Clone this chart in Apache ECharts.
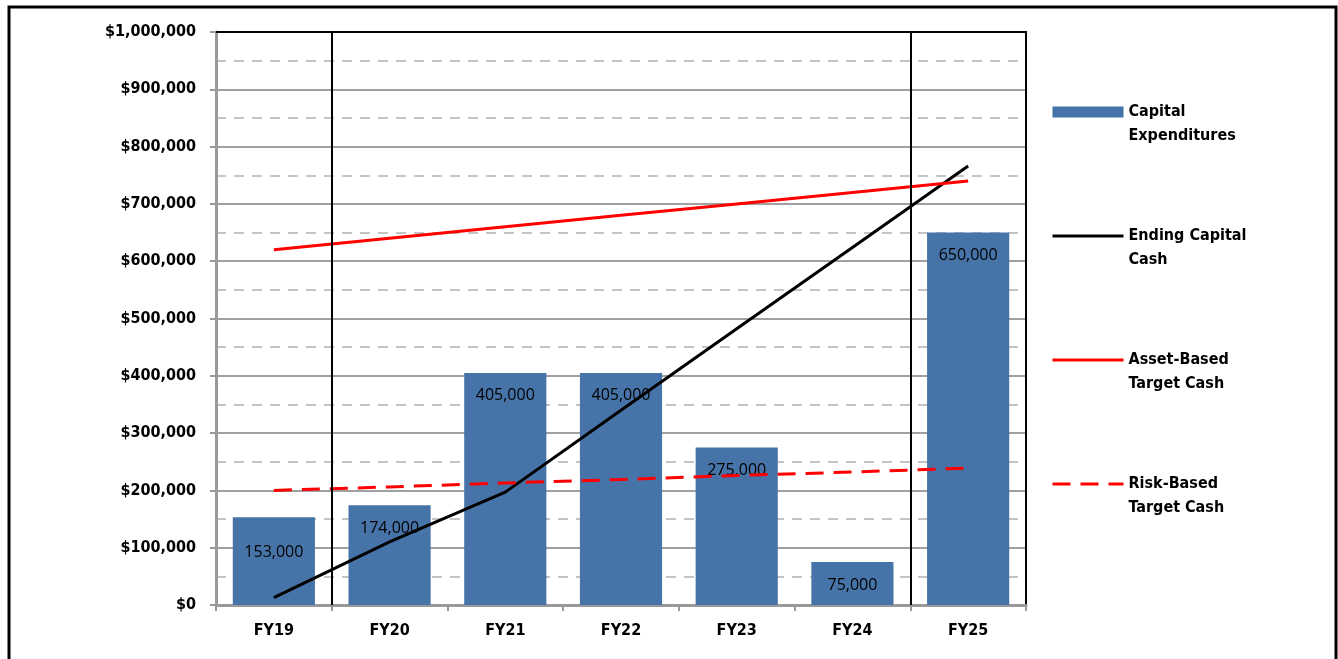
<!DOCTYPE html>
<html>
<head>
<meta charset="utf-8">
<script src="https://cdn.jsdelivr.net/npm/echarts@6/dist/echarts.min.js"></script>
<style>
html,body{margin:0;padding:0;background:#fff;}
#chart{width:1338px;height:659px;}
</style>
</head>
<body>
<div id="chart"></div>
<script>
// 数据
var years = ['FY19', 'FY20', 'FY21', 'FY22', 'FY23', 'FY24', 'FY25'];
var capitalExp = [153000, 174000, 405000, 405000, 275000, 75000, 650000];
var endingCash = [13000, 110000, 197000, 340000, 482000, 624000, 766000];
var assetTarget = [620000, 640000, 660000, 680000, 700000, 720000, 740000];
var riskTarget = [200000, 206000, 213000, 219000, 226000, 232000, 239000];
var dividers = [1, 6]; // black lines between FY19/FY20 and FY24/FY25

var axisFont = "'Liberation Sans Narrow', 'DejaVu Sans Condensed', sans-serif";
// blank first line keeps the icon level with the first text line
var legendNames = {
	'Capital Expenditures': '\nCapital\nExpenditures',
	'Ending Capital Cash': '\nEnding Capital\nCash',
	'Asset-Based Target Cash': '\nAsset-Based\nTarget Cash',
	'Risk-Based Target Cash': '\nRisk-Based\nTarget Cash'
};

function drowChart(){
	var myChart = echarts.init(document.getElementById('chart'));
	var barData = capitalExp.map(function(v, i){
		// the FY19 label sits lower in the original
		if (i == 0) return {value: v, label: {distance: 27}};
		return v;
	});
	var hideDot = {opacity: 0};
	var option = {
		animation: false,
		graphic: [{
			type: 'rect',
			shape: {x: 9, y: 7, width: 1327, height: 700},
			style: {fill: 'none', stroke: '#000', lineWidth: 3},
			silent: true
		}],
		grid: {left: 216, top: 32, width: 810, height: 573, containLabel: false},
		legend: {
			orient: 'vertical',
			left: 1051,
			top: 76,
			padding: 0,
			itemWidth: 71,
			itemHeight: 11,
			itemGap: 52,
			data: [
				{name: 'Capital Expenditures', icon: 'rect'},
				{name: 'Ending Capital Cash', itemStyle: hideDot, lineStyle: {width: 3}},
				{name: 'Asset-Based Target Cash', itemStyle: hideDot, lineStyle: {width: 3}},
				{name: 'Risk-Based Target Cash', itemStyle: hideDot, lineStyle: {width: 3}}
			],
			formatter: function(name){ return legendNames[name]; },
			textStyle: {
				fontFamily: axisFont, fontWeight: 'bold', fontSize: 16, color: '#000',
				lineHeight: 24
			}
		},
		xAxis: [
			{
				type: 'category',
				data: years,
				position: 'bottom',
				axisLine: {onZero: false, lineStyle: {color: '#999', width: 3}},
				axisTick: {show: true, length: 6, lineStyle: {color: '#999', width: 2}},
				axisLabel: {fontFamily: axisFont, fontWeight: 'bold', fontSize: 16, color: '#000', margin: 18},
				splitLine: {show: false}
			},
			{
				type: 'value',
				min: 0, max: 7,
				position: 'top',
				axisLine: {show: true, onZero: false, lineStyle: {color: '#000', width: 2}},
				axisTick: {show: false},
				axisLabel: {show: false},
				splitLine: {show: false}
			}
		],
		yAxis: [
			{
				type: 'value',
				min: 0, max: 1000000, interval: 100000,
				axisLine: {show: true, onZero: false, lineStyle: {color: '#999', width: 3}},
				axisTick: {show: true, length: 6, lineStyle: {color: '#999', width: 2}},
				axisLabel: {
					fontFamily: axisFont, fontWeight: 'bold', fontSize: 16, color: '#000', margin: 20,
					formatter: function(v){ return '$' + v.toLocaleString('en-US'); }
				},
				splitLine: {show: true, lineStyle: {color: '#a0a0a0', width: 2}},
				minorTick: {show: false, splitNumber: 2},
				minorSplitLine: {show: true, lineStyle: {color: '#c4c4c4', width: 2, type: [10, 8]}}
			},
			{
				type: 'value',
				min: 0, max: 1000000,
				position: 'right',
				axisLine: {show: true, onZero: false, lineStyle: {color: '#000', width: 2}},
				axisTick: {show: false},
				axisLabel: {show: false},
				splitLine: {show: false}
			}
		],
		series: [
			{
				name: 'Capital Expenditures',
				type: 'bar',
				data: barData,
				barCategoryGap: '29%',
				itemStyle: {color: '#4774a8'},
				label: {
					show: true, position: 'insideTop', distance: 15,
					fontFamily: "'Open Sans', sans-serif", fontSize: 16, color: '#000',
					formatter: function(p){ return p.value.toLocaleString('en-US'); }
				}
			},
			{
				name: 'Ending Capital Cash',
				type: 'line',
				data: endingCash,
				symbol: 'none',
				lineStyle: {color: '#000', width: 3},
				itemStyle: {color: '#000'}
			},
			{
				name: 'Asset-Based Target Cash',
				type: 'line',
				data: assetTarget,
				symbol: 'none',
				lineStyle: {color: '#ff0000', width: 3},
				itemStyle: {color: '#ff0000'}
			},
			{
				name: 'Risk-Based Target Cash',
				type: 'line',
				data: riskTarget,
				symbol: 'none',
				lineStyle: {color: '#ff0000', width: 3, type: [18, 10]},
				itemStyle: {color: '#ff0000'}
			},
			{
				name: 'dividers',
				type: 'line',
				xAxisIndex: 1,
				yAxisIndex: 0,
				data: [],
				symbol: 'none',
				markLine: {
					silent: true,
					symbol: ['none', 'none'],
					label: {show: false},
					lineStyle: {color: '#000', width: 2, type: 'solid'},
					data: dividers.map(function(d){ return {xAxis: d}; })
				}
			}
		]
	};
	myChart.setOption(option);
	window.addEventListener('resize', function () {
		myChart.resize();
	});
}

drowChart();
</script>
</body>
</html>
